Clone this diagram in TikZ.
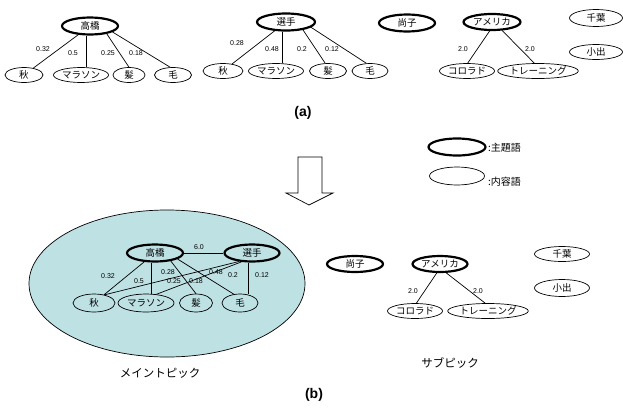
\documentclass[tikz,border=0pt]{standalone}
\usepackage{fontspec}
\setmainfont{Liberation Sans}
\newfontfamily\jp{Noto Sans CJK JP}
\usetikzlibrary{shapes.geometric,calc}
\definecolor{maincyan}{RGB}{190,225,228}
\begin{document}
\begin{tikzpicture}[x=1pt,y=-1pt,
 kw/.style={ellipse,draw,line width=2.2pt,inner sep=0pt,minimum height=17pt,font=\jp\fontsize{9.5}{10}\selectfont},
 cw/.style={ellipse,draw,line width=0.7pt,inner sep=0pt,minimum height=15pt,font=\jp\fontsize{9.5}{10}\selectfont},
 num/.style={inner sep=0pt,font=\fontsize{7}{8}\selectfont},
 conn/.style={line width=0.7pt},
 captxt/.style={inner sep=0pt,font=\jp\fontsize{11.5}{12}\selectfont},
 legtxt/.style={inner sep=0pt,anchor=west,font=\jp\fontsize{10}{11}\selectfont},
 partlbl/.style={inner sep=0pt,font=\bfseries\fontsize{14}{15}\selectfont}]
\useasboundingbox (0,0) rectangle (623,407);

% ---------- (a) left: 高橋 ----------
\node[kw,minimum width=56pt] (tA) at (90,26) {高橋};
\node[cw,minimum width=38pt] (akiA) at (24,75) {秋};
\node[cw,minimum width=55pt] (maA) at (81,75) {マラソン};
\node[cw,minimum width=32pt] (kaA) at (129,75) {髪};
\node[cw,minimum width=37pt] (keA) at (173,75) {毛};
\coordinate (vA) at (86,0);
\draw[conn] (tA) -- (akiA);
\draw[conn] (tA.south -| vA) -- (maA.north -| vA);
\draw[conn] (tA.-25) -- (kaA.north);
\draw[conn] (tA.-15) -- (keA.110);
\node[num] (nA1) at (43,49) {0.32};
\node[num] (nA2) at (73,53) {0.5};
\node[num] (nA3) at (108,53) {0.25};
\node[num] (nA4) at (136,53) {0.18};

% ---------- (a) middle: 選手 ----------
\node[kw,minimum width=58pt] (sA) at (286,22) {選手};
\node[cw,minimum width=40pt] (akiA2) at (223,71) {秋};
\node[cw,minimum width=55pt] (maA2) at (276,71) {マラソン};
\node[cw,minimum width=37pt] (kaA2) at (328,71) {髪};
\node[cw,minimum width=36pt] (keA2) at (370,71) {毛};
\coordinate (vA2) at (282,0);
\draw[conn] (sA) -- (akiA2);
\draw[conn] (sA.south -| vA2) -- (maA2.north -| vA2);
\draw[conn] (sA.-25) -- (kaA2.110);
\draw[conn] (sA.-12) -- (keA2.115);
\node[num] (nA5) at (237,43) {0.28};
\node[num] (nA6) at (272,49) {0.48};
\node[num] (nA7) at (302,49) {0.2};
\node[num] (nA8) at (332,49) {0.12};

% ---------- (a) right ----------
\node[kw,minimum width=56pt] (naA) at (407,23) {尚子};
\node[kw,minimum width=57pt,minimum height=16pt] (amA) at (492,22) {アメリカ};
\node[cw,minimum width=55pt] (coA) at (467,71) {コロラド};
\node[cw,minimum width=67pt] (trA) at (538,71) {トレーニング};
\node[cw,minimum width=53pt,minimum height=17pt] (chA) at (596,18) {千葉};
\node[cw,minimum width=53pt] (koA) at (596,52) {小出};
\draw[conn] (amA.-105) -- (coA.85);
\draw[conn] (amA.-40) -- (trA.115);
\node[num] (nA9) at (463,49) {2.0};
\node[num] (nA10) at (530,49) {2.0};

\node[partlbl] (la) at (303,113) {(a)};

% ---------- arrow ----------
\draw[line width=0.7pt] (298,157) -- (322,157) -- (322,193) -- (333,193) -- (309,205) -- (286,193) -- (298,193) -- cycle;

% ---------- legend ----------
\node[kw,minimum width=57pt] (legK) at (457,147) {};
\node[cw,minimum width=55pt,minimum height=18pt] (legC) at (457,176) {};
\node[legtxt] (legKt) at (488,148) {:主題語};
\node[legtxt] (legCt) at (488,182) {:内容語};

% ---------- (b) main topic ----------
\node[ellipse,draw,line width=0.7pt,fill=maincyan,minimum width=276pt,minimum height=147pt,inner sep=0pt] (mainT) at (167,283.5) {};
\node[kw,minimum width=56pt] (tB) at (155,253) {高橋};
\node[kw,minimum width=55pt] (sB) at (252,253) {選手};
\node[cw,minimum width=42pt,minimum height=18pt] (akiB) at (94,303) {秋};
\node[cw,minimum width=56pt,minimum height=18pt] (maB) at (146,303) {マラソン};
\node[cw,minimum width=33pt,minimum height=18pt] (kaB) at (196,303) {髪};
\node[cw,minimum width=36pt,minimum height=18pt] (keB) at (240,303) {毛};
\coordinate (vB1) at (151,0);
\coordinate (vB2) at (248,0);
\draw[conn] (tB) -- (sB);
\draw[conn] (tB) -- (akiB);
\draw[conn] (tB.south -| vB1) -- (maB.north -| vB1);
\draw[conn] (tB.-27) -- (kaB.north);
\draw[conn] (tB.-15) -- (keB.125);
\draw[conn] (sB.213) -- (akiB.38);
\draw[conn] (sB.220) -- (maB.40);
\draw[conn] (sB.south -| vB2) -- (keB.north -| vB2);
\node[num] (nB0) at (199,247) {6.0};
\node[num] (nB1) at (108,276) {0.32};
\node[num] (nB2) at (139,281) {0.5};
\node[num] (nB3) at (168,272) {0.28};
\node[num] (nB4) at (174,281) {0.25};
\node[num] (nB5) at (196,281) {0.18};
\node[num] (nB6) at (216,272) {0.48};
\node[num] (nB7) at (233,275) {0.2};
\node[num] (nB8) at (262,275) {0.12};
\node[captxt] (mainLbl) at (160,373) {メイントピック};

% ---------- (b) sub topic ----------
\node[kw,minimum width=56pt,minimum height=16pt] (naB) at (355,264) {尚子};
\node[kw,minimum width=55pt,minimum height=16pt] (amB) at (440,264) {アメリカ};
\node[cw,minimum width=55pt] (coB) at (415,311) {コロラド};
\node[cw,minimum width=68pt] (trB) at (488,311) {トレーニング};
\node[cw,minimum width=55pt] (chB) at (562,254) {千葉};
\node[cw,minimum width=55pt,minimum height=17pt] (koB) at (562,288) {小出};
\draw[conn] (amB.-110) -- (coB.80);
\draw[conn] (amB.-55) -- (trB.110);
\node[num] (nB9) at (413,291) {2.0};
\node[num] (nB10) at (478,291) {2.0};
\node[captxt] (subLbl) at (450,363) {サブピック};

\node[partlbl] (lb) at (314,395) {(b)};
\end{tikzpicture}
\end{document}
